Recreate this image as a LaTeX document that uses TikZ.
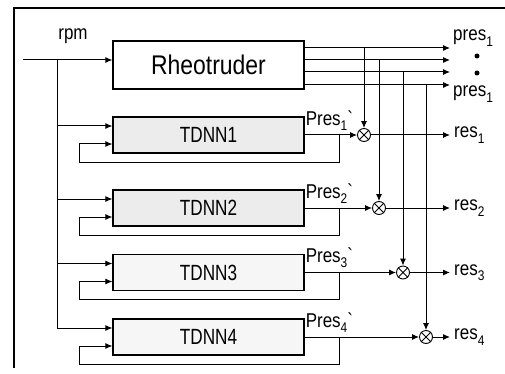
\documentclass[tikz,border=0pt]{standalone}
\usepackage{fontspec}
\setmainfont{Liberation Sans}
\newfontfamily\narrowsf[FakeStretch=0.85]{Liberation Sans}
\newfontfamily\boxsf[FakeStretch=0.78]{Liberation Sans}
\usetikzlibrary{arrows.meta}

\newcommand\lowidx[1]{\raisebox{-0.5ex}{\fontsize{14}{14}\selectfont #1}}

\tikzset{
	blk/.style={draw, line width=1.1pt, minimum width=191pt, minimum height=36pt, inner sep=0pt},
	sig/.style={line width=1pt, -{Latex[length=7pt,width=6pt]}},
	wire/.style={line width=1pt},
	mult/.style={circle, draw, line width=0.9pt, minimum size=13pt, inner sep=0pt},
	lbl/.style={font={\narrowsf\fontsize{20}{20}\selectfont}, inner sep=1pt},
}

\begin{document}
\begin{tikzpicture}[x=1pt, y=-1pt]
	\useasboundingbox (0,0) rectangle (505,374);
	
	% frame (only the top and left edges are seen)
	\draw[line width=1.3pt] (14,368) -- (14,8) -- (505,8);
	
	% the real plant
	\node[blk, minimum height=48pt, font={\narrowsf\fontsize{27}{27}\selectfont}] (rheo) at (208.5,65) {Rheotruder};
	\node[lbl] (rpm) at (73,36) {rpm};
	\coordinate (src) at (23,60);
	\coordinate (trunk) at (57,60);
	\draw[sig] (src) -- (rheo.west |- src);
	
	% measured outputs
	\node[lbl, anchor=west] (ptop) at (452,38) {pres\lowidx{1}};
	\node[lbl, anchor=west] (pbot) at (452,94) {pres\lowidx{1}};
	\fill (477,56) circle (2.5pt);
	\fill (477,73) circle (2.5pt);
	
	% one TDNN model per output, with its own feedback and comparison
	\foreach \i/\y/\py/\mx/\col in {1/135/48/364/gray!15, 2/208/60/379/gray!15, 3/272.5/72/403/gray!7, 4/337/85/426/gray!7} {
		\node[blk, fill=\col, font={\boxsf\fontsize{22}{22}\selectfont}] (tdnn\i) at (208.5,\y) {TDNN\i};
		\node[mult] (m\i) at (\mx,\y) {};
		\draw[wire] (m\i.north west) -- (m\i.south east) (m\i.north east) -- (m\i.south west);
		
		\coordinate (p\i) at (450,\py);
		\coordinate (o\i) at (450,\y);
		\coordinate (fb\i) at (339,\y+27);
		\coordinate (lc\i) at (79,\y+27);
		\coordinate (in\i) at ([yshift=9pt]tdnn\i.west);
		\coordinate (back\i) at ([yshift=-9pt]tdnn\i.west);
		
		\draw[sig] (rheo.east |- p\i) -- (p\i);
		\draw[sig] (m\i |- p\i) -- (m\i);
		\draw[sig] (tdnn\i) -- (m\i);
		\draw[sig] (m\i) -- (o\i);
		\draw[sig] (trunk |- in\i) -- (in\i);
		\draw[sig] (fb\i |- tdnn\i.east) -- (fb\i) -- (lc\i) |- (back\i);
		
		\node[lbl, anchor=west] (pres\i) at ([yshift=-4pt]tdnn\i.north east) {Pres\lowidx{\i}\textasciigrave};
		\node[lbl, anchor=west] (res\i) at ([xshift=3pt]o\i) {res\lowidx{\i}};
	}
	\draw[wire] (trunk) -- (trunk |- in4);
	
\end{tikzpicture}
\end{document}
